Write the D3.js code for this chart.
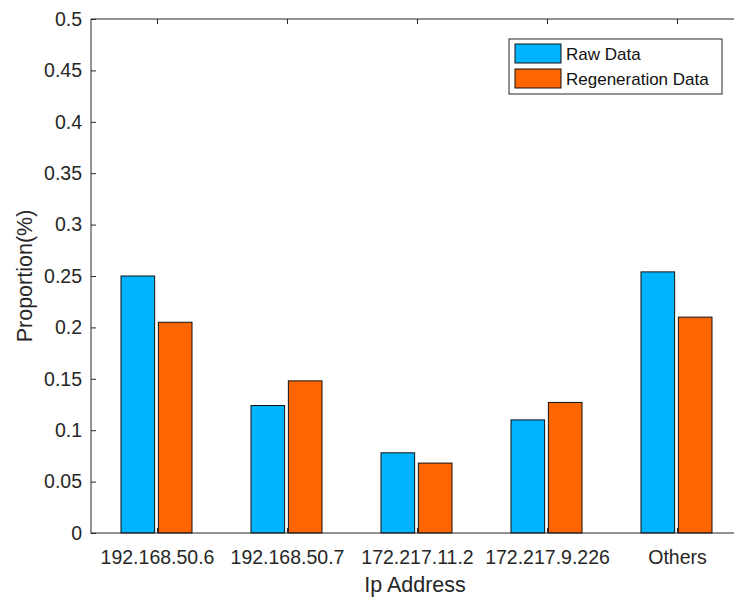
<!DOCTYPE html>
<html>
<head>
<meta charset="utf-8">
<script src="https://cdn.jsdelivr.net/npm/d3@7"></script>
<style>
  body { margin: 0; background: #fff; }
  svg { font-family: "Liberation Sans", Arial, sans-serif; }
</style>
</head>
<body>
<div id="chart"></div>
<script>
const categories = ['192.168.50.6', '192.168.50.7', '172.217.11.2', '172.217.9.226', 'Others'];
const seriesNames = ['Raw Data', 'Regeneration Data'];
const rawData = [0.250, 0.124, 0.078, 0.110, 0.254];
const regenData = [0.205, 0.148, 0.068, 0.127, 0.210];
const yTicks = [0, 0.05, 0.1, 0.15, 0.2, 0.25, 0.3, 0.35, 0.4, 0.45, 0.5];
const colors = ['#00b3ff', '#ff6600'];

const width = 734, height = 597;
const mLeft = 91, mRight = 734, mTop = 19, mBottom = 533;
// the axes box in the original runs past the right edge, to about x=739
const axisCenter = (mLeft + 739) / 2;

const svg = d3.select('#chart').append('svg')
  .attr('width', width)
  .attr('height', height);

const x = d3.scaleLinear().domain([0.4923, 5.4385]).range([mLeft, mRight]);
const y = d3.scaleLinear().domain([0, 0.5]).range([mBottom, mTop]);
const x1 = d3.scaleBand().domain(seriesNames).range([-36, 35]).paddingInner(0.1);

const rows = categories.map((c, i) => ({
  cat: c, pos: i + 1,
  values: [rawData[i], regenData[i]]
}));

// bars
const groups = svg.append('g').selectAll('g')
  .data(rows)
  .enter().append('g')
  .attr('transform', d => `translate(${x(d.pos)},0)`);

groups.selectAll('rect')
  .data(d => d.values.map((v, j) => ({ name: seriesNames[j], v, j })))
  .enter().append('rect')
  .attr('x', d => x1(d.name))
  .attr('width', x1.bandwidth())
  .attr('y', d => y(d.v))
  .attr('height', d => y(0) - y(d.v))
  .attr('fill', d => colors[d.j])
  .attr('stroke', '#111')
  .attr('stroke-width', 1);

// axes
const yAxis = d3.axisLeft(y).tickValues(yTicks).tickSize(-5).tickPadding(9)
  .tickFormat(d => d3.format('')(+d.toFixed(2)));
const gy = svg.append('g').attr('transform', `translate(${mLeft},0)`).call(yAxis);

const xAxis = d3.axisBottom(x).tickValues(rows.map(d => d.pos)).tickSize(-5).tickPadding(17)
  .tickFormat((d, i) => categories[i]);
const gx = svg.append('g').attr('transform', `translate(0,${mBottom})`).call(xAxis);

const xTop = d3.axisTop(x).tickValues(rows.map(d => d.pos)).tickSize(-5).tickFormat('');
const gt = svg.append('g').attr('transform', `translate(0,${mTop})`).call(xTop);

[gx, gy, gt].forEach(g => {
  g.select('.domain').attr('stroke', '#262626').attr('stroke-width', 1);
  g.selectAll('.tick line').attr('stroke', '#262626');
  g.selectAll('.tick text').attr('fill', '#262626').style('font-size', '19.5px');
});
gy.select('.domain').attr('d', `M0,${mBottom + 0.5}V${mTop}`);
gx.select('.domain').attr('d', `M${mLeft},0H${mRight}`);
gt.select('.domain').attr('d', `M${mLeft},0H${mRight}`);

// axis labels
svg.append('text')
  .attr('x', axisCenter)
  .attr('y', 592)
  .attr('text-anchor', 'middle')
  .attr('fill', '#262626')
  .style('font-size', '21.5px')
  .text('Ip Address');

svg.append('text')
  .attr('transform', `translate(32,${(mTop + mBottom) / 2}) rotate(-90)`)
  .attr('text-anchor', 'middle')
  .attr('fill', '#262626')
  .style('font-size', '21.5px')
  .text('Proportion(%)');

// legend
const legend = svg.append('g').attr('transform', 'translate(509,39)');
legend.append('rect')
  .attr('width', 213).attr('height', 55)
  .attr('fill', '#fff').attr('stroke', '#262626').attr('stroke-width', 1);

const items = legend.selectAll('g.item')
  .data(seriesNames)
  .enter().append('g')
  .attr('class', 'item')
  .attr('transform', (d, i) => `translate(6,${5 + i * 25})`);

items.append('rect')
  .attr('width', 46).attr('height', 19)
  .attr('fill', (d, i) => colors[i])
  .attr('stroke', '#111');

items.append('text')
  .attr('x', 51)
  .attr('y', 16)
  .attr('fill', '#111')
  .style('font-size', '17px')
  .text(d => d);
</script>
</body>
</html>
